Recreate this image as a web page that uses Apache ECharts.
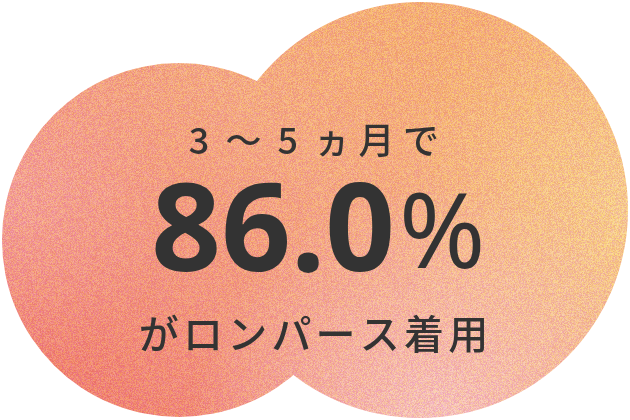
<!DOCTYPE html>
<html>
<head>
<meta charset="utf-8">
<script src="https://cdn.jsdelivr.net/npm/echarts@6/dist/echarts.min.js"></script>
<style>
    html, body { margin: 0; padding: 0; background: #fff; }
    #main { width: 630px; height: 420px; }
</style>
</head>
<body>
<div id="main"></div>
<script>
// texts of the badge
const headChars = ['3', '〜', '5', 'ヵ', '月', 'で']
const rateValues = [86.0]
const rateUnits = ['%']
const footChars = ['が', 'ロ', 'ン', 'パ', 'ー', 'ス', '着', '用']

const W = 630
const H = 420
const textColor = '#333333'

// paper with gradient + grain, used as fill for the two blobs
const makePaper = () => {
    const cv = document.createElement('canvas')
    cv.width = W
    cv.height = H
    const ctx = cv.getContext('2d')

    let g = ctx.createLinearGradient(30, 410, 380, 10)
    g.addColorStop(0, '#ef7c6f')
    g.addColorStop(0.35, '#f1957f')
    g.addColorStop(0.7, '#f3a883')
    g.addColorStop(1, '#f4ae78')
    ctx.fillStyle = g
    ctx.fillRect(0, 0, W, H)

    g = ctx.createRadialGradient(10, 200, 0, 10, 200, 170)
    g.addColorStop(0, 'rgba(244,168,158,0.7)')
    g.addColorStop(1, 'rgba(244,168,158,0)')
    ctx.fillStyle = g
    ctx.fillRect(0, 0, W, H)

    g = ctx.createRadialGradient(640, 210, 0, 640, 210, 250)
    g.addColorStop(0, 'rgba(246,204,146,0.95)')
    g.addColorStop(1, 'rgba(246,204,146,0)')
    ctx.fillStyle = g
    ctx.fillRect(0, 0, W, H)

    g = ctx.createRadialGradient(440, 430, 0, 440, 430, 250)
    g.addColorStop(0, 'rgba(246,196,190,0.95)')
    g.addColorStop(1, 'rgba(246,196,190,0)')
    ctx.fillStyle = g
    ctx.fillRect(0, 0, W, H)

    // grain
    const img = ctx.getImageData(0, 0, W, H)
    const d = img.data
    const hash = (x, y, s) => {
        const v = Math.sin(x * 12.9898 + y * 78.233 + s * 37.719) * 43758.5453
        return v - Math.floor(v)
    }
    for (let y = 0; y < H; y++) {
        for (let x = 0; x < W; x++) {
            const i = (y * W + x) * 4
            const n1 = hash(x, y, 1) - 0.5
            const n2 = hash(x, y, 2) - 0.5
            d[i] = Math.min(255, d[i] + n1 * 12)
            d[i + 1] = Math.max(0, Math.min(255, d[i + 1] + n1 * 46))
            d[i + 2] = Math.max(0, Math.min(255, d[i + 2] + n2 * 40))
        }
    }
    ctx.putImageData(img, 0, 0)
    return cv
}

const paper = makePaper()
const blobFill = { image: paper, repeat: 'no-repeat' }

const blobs = [
    { cx: 179, cy: 240, r: 177 },
    { cx: 420, cy: 210, r: 208 },
]

const charRow = (chars, centerX, pitch, y, font) => {
    return chars.map((c, i) => ({
        type: 'text',
        style: {
            text: c,
            x: centerX + (i - (chars.length - 1) / 2) * pitch,
            y: y,
            font: font,
            fill: textColor,
            align: 'center',
            verticalAlign: 'middle',
            textAlign: 'center',
            textVerticalAlign: 'middle',
        },
    }))
}

const elements = []
blobs.forEach((b) => {
    elements.push({
        type: 'circle',
        shape: { cx: b.cx, cy: b.cy, r: b.r },
        style: { fill: blobFill },
    })
})

elements.push(...charRow(headChars, 310, 44.4, 140, '500 36px "Noto Sans CJK JP"'))
elements.push(...charRow(footChars, 313.5, 44.2, 334, '500 40px "Noto Sans CJK JP"'))

elements.push({
    type: 'text',
    style: {
        text: rateValues[0].toFixed(1),
        x: 395,
        y: 236,
        font: 'bold 122px "Noto Sans"',
        fill: textColor,
        align: 'right',
        verticalAlign: 'middle',
        textAlign: 'right',
        textVerticalAlign: 'middle',
    },
})
elements.push({
    type: 'text',
    style: {
        text: rateUnits[0],
        x: 399,
        y: 238,
        font: '400 104px "Noto Sans"',
        fill: textColor,
        align: 'left',
        verticalAlign: 'middle',
        textAlign: 'left',
        textVerticalAlign: 'middle',
    },
})

const chart = echarts.init(document.getElementById('main'))
chart.setOption({
    backgroundColor: '#ffffff',
    animation: false,
    graphic: { elements: elements },
})
</script>
</body>
</html>
